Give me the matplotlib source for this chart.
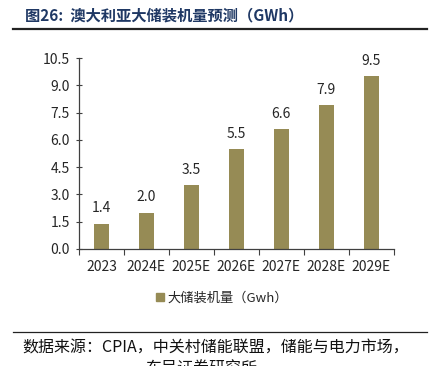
import matplotlib.pyplot as plt
from matplotlib.lines import Line2D
import matplotlib.patches as mpatches

plt.rcParams['font.family'] = ['Noto Sans CJK SC', 'DejaVu Sans']

years = ["2023", "2024E", "2025E", "2026E", "2027E", "2028E", "2029E"]
capacity = [1.4, 2.0, 3.5, 5.5, 6.6, 7.9, 9.5]
y_ticks = [0.0, 1.5, 3.0, 4.5, 6.0, 7.5, 9.0, 10.5]

BAR_COLOR = "#968B55"
TEXT_COLOR = "#262626"
TITLE_COLOR = "#1F3864"
SPINE_COLOR = "#404040"

fig = plt.figure(figsize=(4.29, 3.66), dpi=100)
ax = fig.add_axes([0.184, 0.3197, 0.734, 0.5218])

x = list(range(len(years)))
ax.bar(x, capacity, width=0.33, color=BAR_COLOR, zorder=2)
for xi, v in zip(x, capacity):
    ax.annotate(f"{v:.1f}", (xi, v), xytext=(0, 6), textcoords="offset points",
                ha="center", va="bottom", fontsize=10, color=TEXT_COLOR)

ax.set_xlim(-0.5, len(years) - 0.5)
ax.set_ylim(0, 10.5)
ax.set_yticks(y_ticks)
ax.set_yticklabels([f"{t:.1f}" for t in y_ticks], fontsize=10, color=TEXT_COLOR)
ax.set_xticks([i - 0.5 for i in range(len(years) + 1)])
ax.set_xticklabels([])
ax.set_xticks(x, minor=True)
ax.set_xticklabels(years, minor=True, fontsize=10, color=TEXT_COLOR)
ax.tick_params(axis="x", which="major", direction="out", length=4, color=SPINE_COLOR)
ax.tick_params(axis="x", which="minor", length=0, pad=8)
ax.tick_params(axis="y", direction="inout", length=5, color=SPINE_COLOR, pad=4)
for side in ["top", "right"]:
    ax.spines[side].set_visible(False)
for side in ["left", "bottom"]:
    ax.spines[side].set_color(SPINE_COLOR)
    ax.spines[side].set_linewidth(0.9)

handle = mpatches.Patch(color=BAR_COLOR, label="大储装机量（Gwh）")
fig.legend(handles=[handle], loc="center", bbox_to_anchor=(0.518, 0.186), frameon=False,
           fontsize=9.5, handlelength=0.6, handleheight=0.6, handletextpad=0.3,
           labelcolor=TEXT_COLOR)

fig.text(0.058, 0.957, "图26:  澳大利亚大储装机量预测（GWh）", fontsize=11, fontweight="bold",
         color=TITLE_COLOR, va="center", ha="left")
fig.add_artist(Line2D([0.03, 0.995], [0.921, 0.921], color="#222222", linewidth=1.6))
fig.add_artist(Line2D([0.03, 0.995], [0.093, 0.093], color="#222222", linewidth=0.9))
fig.text(0.052, 0.050, "数据来源：CPIA，中关村储能联盟，储能与电力市场，", fontsize=11.5,
         color="#111111", va="center", ha="left")
fig.text(0.34, -0.008, "东吴证券研究所", fontsize=11.5, color="#111111", va="center", ha="left")

fig.savefig("out.png", dpi=100)
